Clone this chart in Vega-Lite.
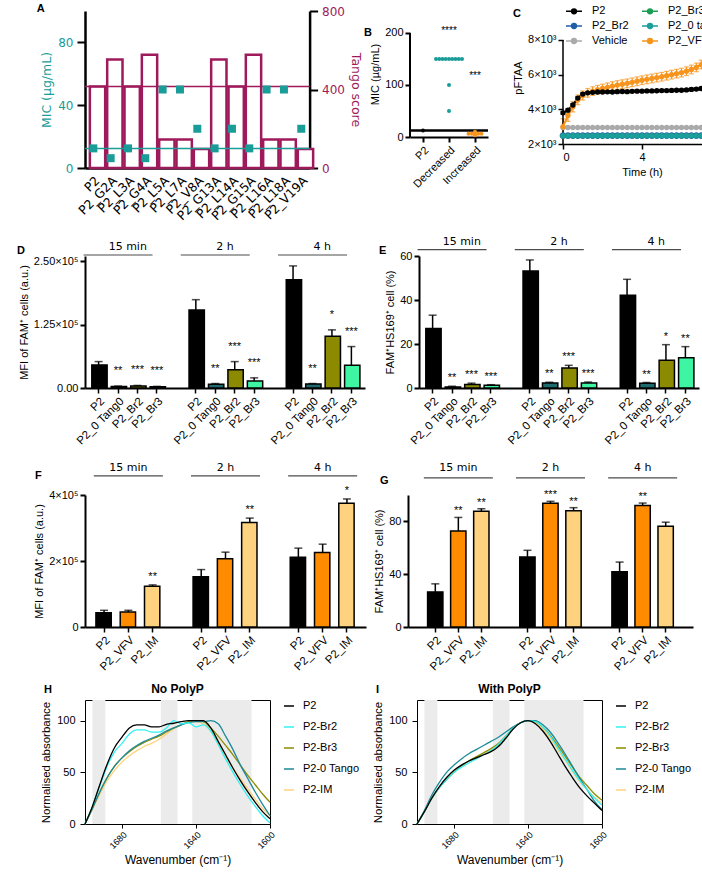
{
  "$schema": "https://vega.github.io/schema/vega-lite/v6.json",
  "background": "white",
  "padding": {"left": 2, "top": 2, "right": 0, "bottom": 0},
  "spacing": 13,
  "resolve": {"scale": {"color": "independent", "fill": "independent", "shape": "independent", "stroke": "independent"}},
  "config": {
    "font": "Liberation Sans",
    "view": {"stroke": null, "step": 17.33},
    "axis": {"grid": false, "labelOverlap": false, "domainColor": "black", "domainWidth": 2, "tickColor": "black", "tickWidth": 2, "tickSize": 5, "labelFont": "Liberation Sans", "labelFontSize": 11, "labelColor": "black", "titleFont": "Liberation Sans", "titleFontSize": 11, "titleFontWeight": "normal", "titleColor": "black", "labelPadding": 2, "titlePadding": 4},
    "title": {"font": "Liberation Sans", "fontSize": 12, "fontWeight": "bold", "color": "black"},
    "legend": {"labelFont": "Liberation Sans", "labelFontSize": 11, "labelColor": "black"},
    "text": {"font": "Liberation Sans"}
  },
  "vconcat": [
    {
      "spacing": 2,
      "resolve": {"scale": {"color": "independent", "fill": "independent", "shape": "independent", "stroke": "independent"}},
      "hconcat": [
        {
          "width": {"step": 17.33}, "height": 157,
          "data": {"values": [
            {"pep": "P2", "tango": 415, "mic": 12.5},
            {"pep": "P2_G2A", "tango": 553, "mic": 6.25},
            {"pep": "P2_L3A", "tango": 415, "mic": 12.5},
            {"pep": "P2_G4A", "tango": 577, "mic": 6.25},
            {"pep": "P2_L5A", "tango": 145, "mic": 50},
            {"pep": "P2_L7A", "tango": 145, "mic": 50},
            {"pep": "P2_V8A", "tango": 97, "mic": 25},
            {"pep": "P2_G13A", "tango": 553, "mic": 12.5},
            {"pep": "P2_L14A", "tango": 415, "mic": 25},
            {"pep": "P2_G15A", "tango": 577, "mic": 12.5},
            {"pep": "P2_L16A", "tango": 145, "mic": 50},
            {"pep": "P2_L18A", "tango": 145, "mic": 50},
            {"pep": "P2_V19A", "tango": 97, "mic": 25}
          ]},
          "layer": [
            {"layer": [
              {"mark": {"type": "bar", "fill": "white", "stroke": "#9E1A5B", "strokeWidth": 2.5},
               "encoding": {
                 "x": {"field": "pep", "type": "nominal", "sort": null, "scale": {"paddingInner": 0.6, "paddingOuter": 0.28},
                       "axis": {"title": null, "ticks": false, "labelAngle": -45, "labelFont": "DejaVu Sans", "labelFontSize": 12.5, "labelPadding": 6, "domainWidth": 2.5}},
                 "y": {"field": "tango", "type": "quantitative", "scale": {"domain": [0, 800]},
                       "axis": {"orient": "right", "values": [0, 200, 400, 600, 800], "title": "Tango score", "titleAngle": 90, "titleColor": "#9E1A5B", "titleFont": "DejaVu Sans", "titleFontSize": 12.5, "labelColor": "#9E1A5B", "labelFont": "DejaVu Sans", "labelFontSize": 12, "tickSize": 8, "domainWidth": 2.5, "labelPadding": 4, "titlePadding": 4}}}},
              {"data": {"values": [{}]}, "mark": {"type": "rule", "color": "#9E1A5B", "strokeWidth": 1.5}, "encoding": {"y": {"datum": 415}}}
            ]},
            {"layer": [
              {"mark": {"type": "square", "filled": true, "color": "#1A9C98", "size": 64, "opacity": 1},
               "encoding": {
                 "x": {"field": "pep", "type": "nominal", "sort": null},
                 "y": {"field": "mic", "type": "quantitative", "scale": {"domain": [0, 100]},
                       "axis": {"orient": "left", "values": [0, 20, 40, 60, 80, 100], "title": "MIC (µg/mL)", "titleColor": "#1A9C98", "titleFont": "DejaVu Sans", "titleFontSize": 12.5, "labelColor": "#1A9C98", "labelFont": "DejaVu Sans", "labelFontSize": 12, "tickSize": 8, "domainWidth": 2.5, "labelPadding": 4}}}},
              {"data": {"values": [{}]}, "mark": {"type": "rule", "color": "#1A9C98", "strokeWidth": 1.5}, "encoding": {"y": {"datum": 12.5}}},
              {"data": {"values": [{"letter": "A"}]}, "mark": {"type": "text", "fontWeight": "bold", "fontSize": 11, "align": "left", "baseline": "middle", "dx": -160.5, "dy": -2},
               "encoding": {"y": {"datum": 100}, "text": {"field": "letter"}}}
            ]}
          ],
          "resolve": {"scale": {"y": "independent"}}
        },
        {
          "width": 78, "height": 126,
          "data": {"values": [
            {"grp": "P2", "rep": "5", "mic": 12.5},
            {"grp": "Decreased", "rep": "1", "mic": 150},
            {"grp": "Decreased", "rep": "2", "mic": 150},
            {"grp": "Decreased", "rep": "3", "mic": 150},
            {"grp": "Decreased", "rep": "4", "mic": 150},
            {"grp": "Decreased", "rep": "5", "mic": 150},
            {"grp": "Decreased", "rep": "6", "mic": 150},
            {"grp": "Decreased", "rep": "7", "mic": 150},
            {"grp": "Decreased", "rep": "8", "mic": 150},
            {"grp": "Decreased", "rep": "9", "mic": 150},
            {"grp": "Decreased", "rep": "5", "mic": 100},
            {"grp": "Decreased", "rep": "5", "mic": 50},
            {"grp": "Increased", "rep": "3", "mic": 6.25},
            {"grp": "Increased", "rep": "4", "mic": 6.25},
            {"grp": "Increased", "rep": "5", "mic": 6.25},
            {"grp": "Increased", "rep": "6", "mic": 6.25},
            {"grp": "Increased", "rep": "7", "mic": 6.25},
            {"grp": "Increased", "rep": "5", "mic": 10},
            {"grp": "Increased", "rep": "5", "mic": 3.125}
          ]},
          "layer": [
            {"data": {"values": [{}]}, "mark": {"type": "rule", "color": "black", "strokeWidth": 2.5}, "encoding": {"y": {"datum": 12.5}}},
            {"mark": {"type": "circle", "size": 16, "opacity": 1},
             "encoding": {
               "x": {"field": "grp", "type": "nominal", "sort": ["P2", "Decreased", "Increased"], "scale": {"domain": ["P2", "Decreased", "Increased"], "paddingInner": 0, "paddingOuter": 0},
                     "axis": {"title": null, "labelAngle": -45, "labelFontSize": 11, "tickSize": 5, "labelPadding": 2}},
               "xOffset": {"field": "rep", "type": "nominal", "scale": {"domain": ["1", "2", "3", "4", "5", "6", "7", "8", "9"], "paddingInner": 0, "paddingOuter": 0}},
               "y": {"field": "mic", "type": "quantitative", "scale": {"domain": [0, 242.3], "nice": false}, "axis": {"values": [0, 50, 100, 150, 200], "title": "MIC (µg/mL)", "labelFontSize": 11, "domain": false}},
               "color": {"field": "grp", "type": "nominal", "scale": {"domain": ["P2", "Decreased", "Increased"], "range": ["#000000", "#1A9C98", "#F7941D"]}, "legend": null}}},
            {"data": {"values": [{}]}, "mark": {"type": "rule", "color": "black", "strokeWidth": 2}, "encoding": {"x": {"datum": "P2", "bandPosition": 0}, "y": {"datum": 0}, "y2": {"datum": 200}}},
            {"data": {"values": [{"lab": "****"}]}, "mark": {"type": "text", "fontSize": 10, "baseline": "middle"}, "encoding": {"x": {"datum": "Decreased"}, "y": {"datum": 203}, "text": {"field": "lab"}}},
            {"data": {"values": [{"lab": "***"}]}, "mark": {"type": "text", "fontSize": 10, "baseline": "middle"}, "encoding": {"x": {"datum": "Increased"}, "y": {"datum": 117}, "text": {"field": "lab"}}},
            {"data": {"values": [{"letter": "B"}]}, "mark": {"type": "text", "fontWeight": "bold", "fontSize": 11, "align": "left", "baseline": "middle", "dx": -46},
             "encoding": {"x": {"datum": "P2", "bandPosition": 0}, "y": {"datum": 200}, "text": {"field": "letter"}}}
          ]
        },
        {
          "width": 18, "height": 5, "data": {"values": [{}]}, "mark": {"type": "point", "opacity": 0}
        },
        {
          "width": 158, "height": 133,
          "data": {"values": [
            {"t": 0, "P2": 3800, "P2e": 80, "P2_VFV": 3000, "VFVe": 450, "Vehicle": 2950, "P2_0 tango": 2470, "P2_Br2": 2480, "P2_Br3": 2470},
            {"t": 0.25, "P2": 3950, "P2e": 80, "P2_VFV": 3650, "VFVe": 350, "Vehicle": 2950, "P2_0 tango": 2470, "P2_Br2": 2480, "P2_Br3": 2470},
            {"t": 0.5, "P2": 4250, "P2e": 80, "P2_VFV": 4150, "VFVe": 300, "Vehicle": 2950, "P2_0 tango": 2470, "P2_Br2": 2480, "P2_Br3": 2470},
            {"t": 0.75, "P2": 4650, "P2e": 80, "P2_VFV": 4550, "VFVe": 280, "Vehicle": 2950, "P2_0 tango": 2470, "P2_Br2": 2480, "P2_Br3": 2470},
            {"t": 1, "P2": 4880, "P2e": 80, "P2_VFV": 4800, "VFVe": 260, "Vehicle": 2950, "P2_0 tango": 2470, "P2_Br2": 2480, "P2_Br3": 2470},
            {"t": 1.25, "P2": 4950, "P2e": 70, "P2_VFV": 4950, "VFVe": 250, "Vehicle": 2950, "P2_0 tango": 2470, "P2_Br2": 2480, "P2_Br3": 2470},
            {"t": 1.5, "P2": 4980, "P2e": 70, "P2_VFV": 5050, "VFVe": 250, "Vehicle": 2950, "P2_0 tango": 2470, "P2_Br2": 2480, "P2_Br3": 2470},
            {"t": 1.75, "P2": 5000, "P2e": 70, "P2_VFV": 5130, "VFVe": 250, "Vehicle": 2950, "P2_0 tango": 2470, "P2_Br2": 2480, "P2_Br3": 2470},
            {"t": 2, "P2": 5000, "P2e": 70, "P2_VFV": 5200, "VFVe": 250, "Vehicle": 2950, "P2_0 tango": 2470, "P2_Br2": 2480, "P2_Br3": 2470},
            {"t": 2.25, "P2": 5010, "P2e": 70, "P2_VFV": 5270, "VFVe": 250, "Vehicle": 2950, "P2_0 tango": 2470, "P2_Br2": 2480, "P2_Br3": 2470},
            {"t": 2.5, "P2": 5000, "P2e": 70, "P2_VFV": 5340, "VFVe": 250, "Vehicle": 2950, "P2_0 tango": 2470, "P2_Br2": 2480, "P2_Br3": 2470},
            {"t": 2.75, "P2": 5020, "P2e": 70, "P2_VFV": 5400, "VFVe": 250, "Vehicle": 2950, "P2_0 tango": 2470, "P2_Br2": 2480, "P2_Br3": 2470},
            {"t": 3, "P2": 5030, "P2e": 70, "P2_VFV": 5450, "VFVe": 250, "Vehicle": 2950, "P2_0 tango": 2470, "P2_Br2": 2480, "P2_Br3": 2470},
            {"t": 3.25, "P2": 5020, "P2e": 70, "P2_VFV": 5500, "VFVe": 250, "Vehicle": 2950, "P2_0 tango": 2470, "P2_Br2": 2480, "P2_Br3": 2470},
            {"t": 3.5, "P2": 5040, "P2e": 70, "P2_VFV": 5560, "VFVe": 250, "Vehicle": 2950, "P2_0 tango": 2470, "P2_Br2": 2480, "P2_Br3": 2470},
            {"t": 3.75, "P2": 5050, "P2e": 70, "P2_VFV": 5620, "VFVe": 250, "Vehicle": 2950, "P2_0 tango": 2470, "P2_Br2": 2480, "P2_Br3": 2470},
            {"t": 4, "P2": 5050, "P2e": 70, "P2_VFV": 5680, "VFVe": 250, "Vehicle": 2950, "P2_0 tango": 2470, "P2_Br2": 2480, "P2_Br3": 2470},
            {"t": 4.25, "P2": 5060, "P2e": 70, "P2_VFV": 5730, "VFVe": 250, "Vehicle": 2950, "P2_0 tango": 2470, "P2_Br2": 2480, "P2_Br3": 2470},
            {"t": 4.5, "P2": 5060, "P2e": 70, "P2_VFV": 5780, "VFVe": 250, "Vehicle": 2950, "P2_0 tango": 2470, "P2_Br2": 2480, "P2_Br3": 2470},
            {"t": 4.75, "P2": 5070, "P2e": 70, "P2_VFV": 5830, "VFVe": 250, "Vehicle": 2950, "P2_0 tango": 2470, "P2_Br2": 2480, "P2_Br3": 2470},
            {"t": 5, "P2": 5080, "P2e": 70, "P2_VFV": 5880, "VFVe": 250, "Vehicle": 2950, "P2_0 tango": 2470, "P2_Br2": 2480, "P2_Br3": 2470},
            {"t": 5.25, "P2": 5080, "P2e": 70, "P2_VFV": 5940, "VFVe": 250, "Vehicle": 2950, "P2_0 tango": 2470, "P2_Br2": 2480, "P2_Br3": 2470},
            {"t": 5.5, "P2": 5090, "P2e": 70, "P2_VFV": 6000, "VFVe": 250, "Vehicle": 2950, "P2_0 tango": 2470, "P2_Br2": 2480, "P2_Br3": 2470},
            {"t": 5.75, "P2": 5100, "P2e": 70, "P2_VFV": 6060, "VFVe": 250, "Vehicle": 2950, "P2_0 tango": 2470, "P2_Br2": 2480, "P2_Br3": 2470},
            {"t": 6, "P2": 5100, "P2e": 70, "P2_VFV": 6120, "VFVe": 250, "Vehicle": 2950, "P2_0 tango": 2470, "P2_Br2": 2480, "P2_Br3": 2470},
            {"t": 6.25, "P2": 5120, "P2e": 80, "P2_VFV": 6200, "VFVe": 250, "Vehicle": 2950, "P2_0 tango": 2470, "P2_Br2": 2480, "P2_Br3": 2470},
            {"t": 6.5, "P2": 5150, "P2e": 80, "P2_VFV": 6300, "VFVe": 250, "Vehicle": 2950, "P2_0 tango": 2470, "P2_Br2": 2480, "P2_Br3": 2470},
            {"t": 6.75, "P2": 5170, "P2e": 80, "P2_VFV": 6420, "VFVe": 250, "Vehicle": 2950, "P2_0 tango": 2470, "P2_Br2": 2480, "P2_Br3": 2470},
            {"t": 7, "P2": 5200, "P2e": 90, "P2_VFV": 6580, "VFVe": 250, "Vehicle": 2950, "P2_0 tango": 2470, "P2_Br2": 2480, "P2_Br3": 2470},
            {"t": 7.25, "P2": 5230, "P2e": 90, "P2_VFV": 6500, "VFVe": 250, "Vehicle": 2950, "P2_0 tango": 2470, "P2_Br2": 2480, "P2_Br3": 2470},
            {"t": 7.5, "P2": 5260, "P2e": 100, "P2_VFV": 6200, "VFVe": 250, "Vehicle": 2950, "P2_0 tango": 2470, "P2_Br2": 2480, "P2_Br3": 2470},
            {"t": 7.75, "P2": 5200, "P2e": 100, "P2_VFV": 6380, "VFVe": 250, "Vehicle": 2950, "P2_0 tango": 2470, "P2_Br2": 2480, "P2_Br3": 2470},
            {"t": 8, "P2": 5060, "P2e": 150, "P2_VFV": 6450, "VFVe": 250, "Vehicle": 2950, "P2_0 tango": 2470, "P2_Br2": 2480, "P2_Br3": 2470}
          ]},
          "layer": [
            {"mark": {"type": "errorbar", "color": "#F7941D", "ticks": true, "thickness": 1.2},
             "encoding": {
               "x": {"field": "t", "type": "quantitative", "scale": {"domain": [0, 8], "nice": false}, "axis": {"values": [0, 2, 4, 6, 8], "title": "Time (h)", "domainWidth": 1.5, "tickWidth": 1.5}},
               "y": {"field": "P2_VFV", "type": "quantitative", "scale": {"domain": [2000, 9673], "zero": false, "nice": false}, "axis": {"title": "pFTAA", "values": [2000, 4000, 6000, 8000], "labelExpr": "(datum.value/1000) + '×10³'", "domain": false, "tickWidth": 1.5}},
               "yError": {"field": "VFVe"}}},
            {"mark": {"type": "errorbar", "color": "black", "ticks": true, "thickness": 1.2},
             "encoding": {
               "x": {"field": "t", "type": "quantitative"},
               "y": {"field": "P2", "type": "quantitative", "axis": {"title": "pFTAA"}},
               "yError": {"field": "P2e"}}},
            {"data": {"values": [{}]}, "mark": {"type": "rule", "color": "black", "strokeWidth": 1.5}, "encoding": {"x": {"datum": 0}, "y": {"datum": 2000}, "y2": {"datum": 8000}}},
            {"transform": [{"fold": ["P2_Br2", "P2_Br3", "P2_0 tango", "Vehicle", "P2_VFV", "P2"], "as": ["s", "v"]}],
             "mark": {"type": "line", "strokeWidth": 2},
             "encoding": {
               "x": {"field": "t", "type": "quantitative"},
               "y": {"field": "v", "type": "quantitative", "axis": {"title": "pFTAA"}},
               "color": {"field": "s", "type": "nominal", "scale": {"domain": ["P2", "P2_Br2", "Vehicle", "P2_Br3", "P2_0 tango", "P2_VFV"], "range": ["#000000", "#1F5FAA", "#AAAAAA", "#1A9E55", "#1A9E9E", "#F7941D"]},
                         "legend": {"title": null, "orient": "none", "legendX": 2, "legendY": -9, "columns": 2, "symbolType": "M-1,0H1M0.3,0A0.3,0.3,0,1,1,-0.3,0A0.3,0.3,0,1,1,0.3,0M0.15,0A0.15,0.15,0,1,1,-0.15,0A0.15,0.15,0,1,1,0.15,0", "symbolSize": 256, "symbolStrokeWidth": 1.5, "labelFontSize": 11, "labelOffset": 9, "rowPadding": 0, "columnPadding": 10, "padding": 0}}}},
            {"transform": [{"fold": ["P2_Br2"], "as": ["s", "v"]}],
             "mark": {"type": "point", "filled": false, "size": 30, "opacity": 1, "strokeWidth": 1.2},
             "encoding": {
               "x": {"field": "t", "type": "quantitative"},
               "y": {"field": "v", "type": "quantitative", "axis": {"title": "pFTAA"}},
               "stroke": {"field": "s", "type": "nominal", "scale": {"domain": ["P2", "P2_Br2", "Vehicle", "P2_Br3", "P2_0 tango", "P2_VFV"], "range": ["#000000", "#1F5FAA", "#AAAAAA", "#1A9E55", "#1A9E9E", "#F7941D"]}, "legend": null}}},
            {"transform": [{"fold": ["P2_Br3", "P2_0 tango", "Vehicle", "P2_VFV", "P2"], "as": ["s", "v"]}],
             "mark": {"type": "point", "filled": false, "size": 8, "opacity": 1, "strokeWidth": 2.5},
             "encoding": {
               "x": {"field": "t", "type": "quantitative"},
               "y": {"field": "v", "type": "quantitative", "axis": {"title": "pFTAA"}},
               "stroke": {"field": "s", "type": "nominal", "legend": null}}},
            {"data": {"values": [{"letter": "C"}]}, "mark": {"type": "text", "fontWeight": "bold", "fontSize": 11, "align": "left", "baseline": "middle", "dx": -50, "dy": -26},
             "encoding": {"x": {"datum": 0}, "y": {"datum": 8000}, "text": {"field": "letter"}}}
          ]
        }
      ]
    },
    {
      "spacing": 14,
      "resolve": {"scale": {"color": "independent", "fill": "independent", "shape": "independent", "stroke": "independent"}},
      "vconcat": [
        {
          "spacing": 14,
          "resolve": {"scale": {"color": "independent", "fill": "independent", "shape": "independent", "stroke": "independent"}},
          "hconcat": [
            {
              "width": 280, "height": 132,
              "data": {"values": [
                {"k": "15 min|P2", "g": "P2", "v": 45500, "hi": 52000, "sig": ""},
                {"k": "15 min|P2_0 Tang0", "g": "P2_0 Tang0", "v": 3000, "hi": 3800, "sig": "**"},
                {"k": "15 min|P2_Br2", "g": "P2_Br2", "v": 4000, "hi": 5000, "sig": "***"},
                {"k": "15 min|P2_Br3", "g": "P2_Br3", "v": 2500, "hi": 3200, "sig": "***"},
                {"k": "2 h|P2", "g": "P2", "v": 153800, "hi": 174000, "sig": ""},
                {"k": "2 h|P2_0 Tang0", "g": "P2_0 Tang0", "v": 7600, "hi": 8800, "sig": "**"},
                {"k": "2 h|P2_Br2", "g": "P2_Br2", "v": 36000, "hi": 52000, "sig": "***"},
                {"k": "2 h|P2_Br3", "g": "P2_Br3", "v": 14000, "hi": 20000, "sig": "***"},
                {"k": "4 h|P2", "g": "P2", "v": 213000, "hi": 240500, "sig": ""},
                {"k": "4 h|P2_0 Tang0", "g": "P2_0 Tang0", "v": 8000, "hi": 8800, "sig": "**"},
                {"k": "4 h|P2_Br2", "g": "P2_Br2", "v": 102000, "hi": 114500, "sig": "*"},
                {"k": "4 h|P2_Br3", "g": "P2_Br3", "v": 45000, "hi": 81600, "sig": "***"}
              ]},
              "encoding": {"x": {"field": "k", "type": "nominal",
                "scale": {"domain": ["15 min|P2", "15 min|P2_0 Tang0", "15 min|P2_Br2", "15 min|P2_Br3", "gap1", "2 h|P2", "2 h|P2_0 Tang0", "2 h|P2_Br2", "2 h|P2_Br3", "gap2", "4 h|P2", "4 h|P2_0 Tang0", "4 h|P2_Br2", "4 h|P2_Br3"], "paddingInner": 0.3, "paddingOuter": 0.35},
                "axis": {"title": null, "labelExpr": "indexof(datum.value, '|') > 0 ? split(datum.value, '|')[1] : ''", "labelAngle": -45, "labelFontSize": 11.5, "tickOpacity": {"condition": {"test": "indexof(datum.value, 'gap') == 0", "value": 0}, "value": 1}, "tickWidth": 1.5, "tickSize": 5, "domainWidth": 2, "labelPadding": 2}}},
              "layer": [
                {"mark": {"type": "rule", "color": "black", "strokeWidth": 1.5},
                 "encoding": {"y": {"field": "v", "type": "quantitative", "scale": {"domain": [0, 250000]}, "axis": {"title": "MFI of FAM⁺ cells (a.u.)", "values": [0, 125000, 250000], "labelExpr": "datum.value == 0 ? '0.00' : format(datum.value/100000, '.2f') + '×10⁵'"}},
                              "y2": {"field": "hi"}}},
                {"mark": {"type": "tick", "orient": "horizontal", "color": "black", "thickness": 1.5, "size": 8},
                 "encoding": {"y": {"field": "hi", "type": "quantitative"}}},
                {"mark": {"type": "bar", "stroke": "black", "strokeWidth": 1.5},
                 "encoding": {"y": {"field": "v", "type": "quantitative"},
                              "fill": {"field": "g", "type": "nominal", "scale": {"domain": ["P2", "P2_0 Tang0", "P2_Br2", "P2_Br3"], "range": ["#000000", "#1D6B6E", "#8C8A00", "#3DF5A3"]}, "legend": null}}},
                {"mark": {"type": "text", "fontSize": 11, "dy": -12, "baseline": "alphabetic"},
                 "encoding": {"y": {"field": "hi", "type": "quantitative"}, "text": {"field": "sig"}}},
                {"data": {"values": [{"c": "15 min|P2_0 Tang0", "t": "15 min"}, {"c": "2 h|P2_0 Tang0", "t": "2 h"}, {"c": "4 h|P2_0 Tang0", "t": "4 h"}]},
                 "mark": {"type": "tick", "orient": "horizontal", "color": "black", "thickness": 1.2, "size": 69},
                 "encoding": {"x": {"field": "c", "type": "nominal", "bandPosition": 1.214}, "y": {"datum": 262000}}},
                {"data": {"values": [{"c": "15 min|P2_0 Tang0", "t": "15 min"}, {"c": "2 h|P2_0 Tang0", "t": "2 h"}, {"c": "4 h|P2_0 Tang0", "t": "4 h"}]},
                 "mark": {"type": "text", "font": "DejaVu Sans", "fontSize": 11, "baseline": "alphabetic"},
                 "encoding": {"x": {"field": "c", "type": "nominal", "bandPosition": 1.214}, "y": {"datum": 270900}, "text": {"field": "t"}}},
                {"data": {"values": [{"letter": "\u00a0"}]}, "mark": {"type": "text", "opacity": 0, "fontSize": 11, "align": "left", "baseline": "middle", "dx": -89.8, "dy": -10},
                 "encoding": {"x": {"datum": "15 min|P2", "bandPosition": 0}, "y": {"datum": 250000}, "text": {"field": "letter"}}},
                {"data": {"values": [{"letter": "D"}]}, "mark": {"type": "text", "fontWeight": "bold", "fontSize": 11, "align": "left", "baseline": "middle", "dx": -74.8, "dy": -10},
                 "encoding": {"x": {"datum": "15 min|P2", "bandPosition": 0}, "y": {"datum": 250000}, "text": {"field": "letter"}}}
              ]
            },
            {
              "width": 280, "height": 132,
              "data": {"values": [
                {"k": "15 min|P2", "g": "P2", "v": 27.0, "hi": 33.1, "sig": ""},
                {"k": "15 min|P2_0 Tango", "g": "P2_0 Tango", "v": 0.5, "hi": 0.8, "sig": "**"},
                {"k": "15 min|P2_Br2", "g": "P2_Br2", "v": 1.6, "hi": 2.2, "sig": "***"},
                {"k": "15 min|P2_Br3", "g": "P2_Br3", "v": 1.2, "hi": 1.5, "sig": "***"},
                {"k": "2 h|P2", "g": "P2", "v": 53.2, "hi": 58.2, "sig": ""},
                {"k": "2 h|P2_0 Tango", "g": "P2_0 Tango", "v": 2.3, "hi": 2.6, "sig": "**"},
                {"k": "2 h|P2_Br2", "g": "P2_Br2", "v": 9.1, "hi": 10.3, "sig": "***"},
                {"k": "2 h|P2_Br3", "g": "P2_Br3", "v": 2.3, "hi": 2.7, "sig": "***"},
                {"k": "4 h|P2", "g": "P2", "v": 42.2, "hi": 49.4, "sig": ""},
                {"k": "4 h|P2_0 Tango", "g": "P2_0 Tango", "v": 2.2, "hi": 2.5, "sig": "**"},
                {"k": "4 h|P2_Br2", "g": "P2_Br2", "v": 12.6, "hi": 19.7, "sig": "*"},
                {"k": "4 h|P2_Br3", "g": "P2_Br3", "v": 13.8, "hi": 18.8, "sig": "**"}
              ]},
              "encoding": {"x": {"field": "k", "type": "nominal",
                "scale": {"domain": ["15 min|P2", "15 min|P2_0 Tango", "15 min|P2_Br2", "15 min|P2_Br3", "gap1", "2 h|P2", "2 h|P2_0 Tango", "2 h|P2_Br2", "2 h|P2_Br3", "gap2", "4 h|P2", "4 h|P2_0 Tango", "4 h|P2_Br2", "4 h|P2_Br3"], "paddingInner": 0.3, "paddingOuter": 0.35},
                "axis": {"title": null, "labelExpr": "indexof(datum.value, '|') > 0 ? split(datum.value, '|')[1] : ''", "labelAngle": -45, "labelFontSize": 11.5, "tickOpacity": {"condition": {"test": "indexof(datum.value, 'gap') == 0", "value": 0}, "value": 1}, "tickWidth": 1.5, "tickSize": 5, "domainWidth": 2, "labelPadding": 2}}},
              "layer": [
                {"mark": {"type": "rule", "color": "black", "strokeWidth": 1.5},
                 "encoding": {"y": {"field": "v", "type": "quantitative", "scale": {"domain": [0, 60]}, "axis": {"title": "FAM⁺HS169⁺ cell (%)", "values": [0, 20, 40, 60]}},
                              "y2": {"field": "hi"}}},
                {"mark": {"type": "tick", "orient": "horizontal", "color": "black", "thickness": 1.5, "size": 8},
                 "encoding": {"y": {"field": "hi", "type": "quantitative"}}},
                {"mark": {"type": "bar", "stroke": "black", "strokeWidth": 1.5},
                 "encoding": {"y": {"field": "v", "type": "quantitative"},
                              "fill": {"field": "g", "type": "nominal", "scale": {"domain": ["P2", "P2_0 Tango", "P2_Br2", "P2_Br3"], "range": ["#000000", "#1D6B6E", "#8C8A00", "#3DF5A3"]}, "legend": null}}},
                {"mark": {"type": "text", "fontSize": 11, "dy": -5, "baseline": "alphabetic"},
                 "encoding": {"y": {"field": "hi", "type": "quantitative"}, "text": {"field": "sig"}}},
                {"data": {"values": [{"c": "15 min|P2_0 Tango", "t": "15 min"}, {"c": "2 h|P2_0 Tango", "t": "2 h"}, {"c": "4 h|P2_0 Tango", "t": "4 h"}]},
                 "mark": {"type": "tick", "orient": "horizontal", "color": "black", "thickness": 1.2, "size": 69},
                 "encoding": {"x": {"field": "c", "type": "nominal", "bandPosition": 1.214}, "y": {"datum": 62.9}}},
                {"data": {"values": [{"c": "15 min|P2_0 Tango", "t": "15 min"}, {"c": "2 h|P2_0 Tango", "t": "2 h"}, {"c": "4 h|P2_0 Tango", "t": "4 h"}]},
                 "mark": {"type": "text", "font": "DejaVu Sans", "fontSize": 11, "baseline": "alphabetic"},
                 "encoding": {"x": {"field": "c", "type": "nominal", "bandPosition": 1.214}, "y": {"datum": 65.0}, "text": {"field": "t"}}},
                {"data": {"values": [{"letter": "E"}]}, "mark": {"type": "text", "fontWeight": "bold", "fontSize": 11, "align": "left", "baseline": "middle", "dx": -46.8, "dy": -5},
                 "encoding": {"x": {"datum": "15 min|P2", "bandPosition": 0}, "y": {"datum": 60}, "text": {"field": "letter"}}}
              ]
            }
          ]
        },
        {
          "spacing": 9,
          "resolve": {"scale": {"color": "independent", "fill": "independent", "shape": "independent", "stroke": "independent"}},
          "vconcat": [
            {
              "spacing": 7,
              "resolve": {"scale": {"color": "independent", "fill": "independent", "shape": "independent", "stroke": "independent"}},
              "hconcat": [
                {
                  "width": 281, "height": 132,
                  "data": {"values": [
                    {"k": "15 min|P2", "g": "P2", "v": 43500, "hi": 50600, "sig": ""},
                    {"k": "15 min|P2_VFV", "g": "P2_VFV", "v": 45600, "hi": 50600, "sig": ""},
                    {"k": "15 min|P2_IM", "g": "P2_IM", "v": 123500, "hi": 127600, "sig": "**"},
                    {"k": "2 h|P2", "g": "P2", "v": 152000, "hi": 174000, "sig": ""},
                    {"k": "2 h|P2_VFV", "g": "P2_VFV", "v": 206500, "hi": 226800, "sig": ""},
                    {"k": "2 h|P2_IM", "g": "P2_IM", "v": 317000, "hi": 330000, "sig": "**"},
                    {"k": "4 h|P2", "g": "P2", "v": 211600, "hi": 239000, "sig": ""},
                    {"k": "4 h|P2_VFV", "g": "P2_VFV", "v": 225800, "hi": 251000, "sig": ""},
                    {"k": "4 h|P2_IM", "g": "P2_IM", "v": 374700, "hi": 388000, "sig": "*"}
                  ]},
                  "encoding": {"x": {"field": "k", "type": "nominal",
                    "scale": {"domain": ["15 min|P2", "15 min|P2_VFV", "15 min|P2_IM", "gap1", "2 h|P2", "2 h|P2_VFV", "2 h|P2_IM", "gap2", "4 h|P2", "4 h|P2_VFV", "4 h|P2_IM"], "paddingInner": 0.33, "paddingOuter": 0.45},
                    "axis": {"title": null, "labelExpr": "indexof(datum.value, '|') > 0 ? split(datum.value, '|')[1] : ''", "labelAngle": -45, "labelFontSize": 11.5, "tickOpacity": {"condition": {"test": "indexof(datum.value, 'gap') == 0", "value": 0}, "value": 1}, "tickWidth": 1.5, "tickSize": 5, "domainWidth": 2, "labelPadding": 2}}},
                  "layer": [
                    {"mark": {"type": "rule", "color": "black", "strokeWidth": 1.5},
                     "encoding": {"y": {"field": "v", "type": "quantitative", "scale": {"domain": [0, 400000]}, "axis": {"title": "MFI of FAM⁺ cells (a.u.)", "values": [0, 100000, 200000, 300000, 400000], "labelExpr": "datum.value == 0 ? '0' : format(datum.value/100000, 'd') + '×10⁵'"}},
                                  "y2": {"field": "hi"}}},
                    {"mark": {"type": "tick", "orient": "horizontal", "color": "black", "thickness": 1.5, "size": 8},
                     "encoding": {"y": {"field": "hi", "type": "quantitative"}}},
                    {"mark": {"type": "bar", "stroke": "black", "strokeWidth": 1.5},
                     "encoding": {"y": {"field": "v", "type": "quantitative"},
                                  "fill": {"field": "g", "type": "nominal", "scale": {"domain": ["P2", "P2_VFV", "P2_IM"], "range": ["#000000", "#FF8C00", "#FFD27F"]}, "legend": null}}},
                    {"mark": {"type": "text", "fontSize": 11, "dy": -5, "baseline": "alphabetic"},
                     "encoding": {"y": {"field": "hi", "type": "quantitative"}, "text": {"field": "sig"}}},
                    {"data": {"values": [{"c": "15 min|P2_VFV", "t": "15 min"}, {"c": "2 h|P2_VFV", "t": "2 h"}, {"c": "4 h|P2_VFV", "t": "4 h"}]},
                     "mark": {"type": "tick", "orient": "horizontal", "color": "black", "thickness": 1.2, "size": 69},
                     "encoding": {"x": {"field": "c", "type": "nominal"}, "y": {"datum": 457700}}},
                    {"data": {"values": [{"c": "15 min|P2_VFV", "t": "15 min"}, {"c": "2 h|P2_VFV", "t": "2 h"}, {"c": "4 h|P2_VFV", "t": "4 h"}]},
                     "mark": {"type": "text", "font": "DejaVu Sans", "fontSize": 11, "baseline": "alphabetic"},
                     "encoding": {"x": {"field": "c", "type": "nominal"}, "y": {"datum": 472900}, "text": {"field": "t"}}},
                    {"data": {"values": [{"letter": "\u00a0"}]}, "mark": {"type": "text", "opacity": 0, "fontSize": 11, "align": "left", "baseline": "middle", "dx": -90.9, "dy": -19},
                     "encoding": {"x": {"datum": "15 min|P2", "bandPosition": 0}, "y": {"datum": 400000}, "text": {"field": "letter"}}},
                    {"data": {"values": [{"letter": "F"}]}, "mark": {"type": "text", "fontWeight": "bold", "fontSize": 11, "align": "left", "baseline": "middle", "dx": -60.9, "dy": -19},
                     "encoding": {"x": {"datum": "15 min|P2", "bandPosition": 0}, "y": {"datum": 400000}, "text": {"field": "letter"}}}
                  ]
                },
                {
                  "width": 285, "height": 132,
                  "data": {"values": [
                    {"k": "15 min|P2", "g": "P2", "v": 26.6, "hi": 32.7, "sig": ""},
                    {"k": "15 min|P2_VFV", "g": "P2_VFV", "v": 72.8, "hi": 83.0, "sig": "**"},
                    {"k": "15 min|P2_IM", "g": "P2_IM", "v": 87.6, "hi": 89.6, "sig": "**"},
                    {"k": "2 h|P2", "g": "P2", "v": 53.0, "hi": 58.1, "sig": ""},
                    {"k": "2 h|P2_VFV", "g": "P2_VFV", "v": 93.7, "hi": 95.2, "sig": "***"},
                    {"k": "2 h|P2_IM", "g": "P2_IM", "v": 88.1, "hi": 90.4, "sig": "**"},
                    {"k": "4 h|P2", "g": "P2", "v": 41.9, "hi": 49.2, "sig": ""},
                    {"k": "4 h|P2_VFV", "g": "P2_VFV", "v": 92.1, "hi": 93.9, "sig": "**"},
                    {"k": "4 h|P2_IM", "g": "P2_IM", "v": 76.4, "hi": 79.4, "sig": ""}
                  ]},
                  "encoding": {"x": {"field": "k", "type": "nominal",
                    "scale": {"domain": ["15 min|P2", "15 min|P2_VFV", "15 min|P2_IM", "gap1", "2 h|P2", "2 h|P2_VFV", "2 h|P2_IM", "gap2", "4 h|P2", "4 h|P2_VFV", "4 h|P2_IM"], "paddingInner": 0.33, "paddingOuter": 0.85},
                    "axis": {"title": null, "labelExpr": "indexof(datum.value, '|') > 0 ? split(datum.value, '|')[1] : ''", "labelAngle": -45, "labelFontSize": 11.5, "tickOpacity": {"condition": {"test": "indexof(datum.value, 'gap') == 0", "value": 0}, "value": 1}, "tickWidth": 1.5, "tickSize": 5, "domainWidth": 2, "labelPadding": 2}}},
                  "layer": [
                    {"mark": {"type": "rule", "color": "black", "strokeWidth": 1.5},
                     "encoding": {"y": {"field": "v", "type": "quantitative", "scale": {"domain": [0, 100]}, "axis": {"title": "FAM⁺HS169⁺ cell (%)", "values": [0, 20, 40, 60, 80, 100]}},
                                  "y2": {"field": "hi"}}},
                    {"mark": {"type": "tick", "orient": "horizontal", "color": "black", "thickness": 1.5, "size": 8},
                     "encoding": {"y": {"field": "hi", "type": "quantitative"}}},
                    {"mark": {"type": "bar", "stroke": "black", "strokeWidth": 1.5},
                     "encoding": {"y": {"field": "v", "type": "quantitative"},
                                  "fill": {"field": "g", "type": "nominal", "scale": {"domain": ["P2", "P2_VFV", "P2_IM"], "range": ["#000000", "#FF8C00", "#FFD27F"]}, "legend": null}}},
                    {"mark": {"type": "text", "fontSize": 11, "dy": -3, "baseline": "alphabetic"},
                     "encoding": {"y": {"field": "hi", "type": "quantitative"}, "text": {"field": "sig"}}},
                    {"data": {"values": [{"c": "15 min|P2_VFV", "t": "15 min"}, {"c": "2 h|P2_VFV", "t": "2 h"}, {"c": "4 h|P2_VFV", "t": "4 h"}]},
                     "mark": {"type": "tick", "orient": "horizontal", "color": "black", "thickness": 1.2, "size": 69},
                     "encoding": {"x": {"field": "c", "type": "nominal"}, "y": {"datum": 112.9}}},
                    {"data": {"values": [{"c": "15 min|P2_VFV", "t": "15 min"}, {"c": "2 h|P2_VFV", "t": "2 h"}, {"c": "4 h|P2_VFV", "t": "4 h"}]},
                     "mark": {"type": "text", "font": "DejaVu Sans", "fontSize": 11, "baseline": "alphabetic"},
                     "encoding": {"x": {"field": "c", "type": "nominal"}, "y": {"datum": 118}, "text": {"field": "t"}}},
                    {"data": {"values": [{"letter": "G"}]}, "mark": {"type": "text", "fontWeight": "bold", "fontSize": 11, "align": "left", "baseline": "middle", "dx": -47.6, "dy": -14},
                     "encoding": {"x": {"datum": "15 min|P2", "bandPosition": 0}, "y": {"datum": 100}, "text": {"field": "letter"}}}
                  ]
                }
              ]
            },
            {
              "spacing": 11,
              "resolve": {"scale": {"color": "independent", "fill": "independent", "shape": "independent", "stroke": "independent"}},
              "hconcat": [
                {
                  "width": 185, "height": 124,
                  "title": {"text": "No PolyP", "fontSize": 12, "fontWeight": "bold", "offset": -12},
                  "view": {"stroke": "black", "strokeWidth": 1},
                  "layer": [
                    {"data": {"values": [{"a": 1696, "b": 1689}, {"a": 1659, "b": 1650}, {"a": 1642, "b": 1610}]},
                     "mark": {"type": "rect", "color": "#EBEBEB"},
                     "encoding": {"x": {"field": "a", "type": "quantitative", "scale": {"domain": [1600, 1700], "reverse": true, "nice": false},
                                        "axis": {"title": "Wavenumber (cm⁻¹)", "values": [1700, 1680, 1660, 1640, 1620, 1600], "format": "d", "labelAngle": -45, "labelFontSize": 9, "labelOverlap": false, "labelSeparation": -20, "domain": false, "tickWidth": 1, "tickSize": 4, "titleFontSize": 12}},
                                  "x2": {"field": "b"}}},
                    {"data": {"values": [
                      {"w": 1700, "P2": 0, "P2-Br2": 0, "P2-Br3": 0, "P2-0 Tango": 0, "P2-IM": 0},
                      {"w": 1696, "P2": 17, "P2-Br2": 17, "P2-Br3": 15, "P2-0 Tango": 15, "P2-IM": 14},
                      {"w": 1692, "P2": 38, "P2-Br2": 37, "P2-Br3": 31, "P2-0 Tango": 31, "P2-IM": 29},
                      {"w": 1688, "P2": 58, "P2-Br2": 56, "P2-Br3": 45, "P2-0 Tango": 45, "P2-IM": 42},
                      {"w": 1684, "P2": 74, "P2-Br2": 70, "P2-Br3": 56, "P2-0 Tango": 56, "P2-IM": 52},
                      {"w": 1680, "P2": 84, "P2-Br2": 78, "P2-Br3": 64, "P2-0 Tango": 64, "P2-IM": 60},
                      {"w": 1676, "P2": 93, "P2-Br2": 87, "P2-Br3": 70, "P2-0 Tango": 71, "P2-IM": 66},
                      {"w": 1672, "P2": 96, "P2-Br2": 91, "P2-Br3": 75, "P2-0 Tango": 76, "P2-IM": 71},
                      {"w": 1668, "P2": 96, "P2-Br2": 91, "P2-Br3": 79, "P2-0 Tango": 80, "P2-IM": 75},
                      {"w": 1664, "P2": 94, "P2-Br2": 89, "P2-Br3": 82, "P2-0 Tango": 83, "P2-IM": 78},
                      {"w": 1660, "P2": 94, "P2-Br2": 89, "P2-Br3": 85, "P2-0 Tango": 86, "P2-IM": 82},
                      {"w": 1656, "P2": 96.5, "P2-Br2": 93, "P2-Br3": 89, "P2-0 Tango": 90, "P2-IM": 87},
                      {"w": 1652, "P2": 97.5, "P2-Br2": 100, "P2-Br3": 93, "P2-0 Tango": 93, "P2-IM": 92},
                      {"w": 1648, "P2": 99, "P2-Br2": 97, "P2-Br3": 96, "P2-0 Tango": 96, "P2-IM": 96},
                      {"w": 1644, "P2": 100, "P2-Br2": 98, "P2-Br3": 99, "P2-0 Tango": 98, "P2-IM": 99},
                      {"w": 1640, "P2": 100, "P2-Br2": 94, "P2-Br3": 100, "P2-0 Tango": 99, "P2-IM": 99},
                      {"w": 1636, "P2": 100, "P2-Br2": 96, "P2-Br3": 99, "P2-0 Tango": 99, "P2-IM": 97},
                      {"w": 1632, "P2": 93, "P2-Br2": 90, "P2-Br3": 93, "P2-0 Tango": 100, "P2-IM": 90},
                      {"w": 1628, "P2": 80, "P2-Br2": 77, "P2-Br3": 85, "P2-0 Tango": 97, "P2-IM": 78},
                      {"w": 1624, "P2": 67, "P2-Br2": 63, "P2-Br3": 76, "P2-0 Tango": 85, "P2-IM": 66},
                      {"w": 1620, "P2": 54, "P2-Br2": 50, "P2-Br3": 67, "P2-0 Tango": 72, "P2-IM": 54},
                      {"w": 1616, "P2": 42, "P2-Br2": 38, "P2-Br3": 57, "P2-0 Tango": 57, "P2-IM": 44},
                      {"w": 1612, "P2": 31, "P2-Br2": 27, "P2-Br3": 47, "P2-0 Tango": 44, "P2-IM": 34},
                      {"w": 1608, "P2": 21, "P2-Br2": 17, "P2-Br3": 38, "P2-0 Tango": 31, "P2-IM": 24},
                      {"w": 1604, "P2": 12, "P2-Br2": 8, "P2-Br3": 29, "P2-0 Tango": 19, "P2-IM": 15},
                      {"w": 1600, "P2": 5, "P2-Br2": 1, "P2-Br3": 21, "P2-0 Tango": 8, "P2-IM": 8}
                     ]},
                     "transform": [{"fold": ["P2-IM", "P2-Br3", "P2-0 Tango", "P2-Br2", "P2"], "as": ["s", "y"]}],
                     "mark": {"type": "line", "interpolate": "monotone", "strokeWidth": 1.3},
                     "encoding": {
                       "x": {"field": "w", "type": "quantitative", "axis": {"title": "Wavenumber (cm⁻¹)", "values": [1700, 1680, 1660, 1640, 1620, 1600], "format": "d", "labelAngle": -45, "labelFontSize": 9, "labelOverlap": false, "labelSeparation": -20, "domain": false, "tickWidth": 1, "tickSize": 4, "titleFontSize": 12}},
                       "y": {"field": "y", "type": "quantitative", "scale": {"domain": [0, 120], "nice": false}, "axis": {"title": "Normalised absorbance", "values": [0, 50, 100], "domain": false, "tickWidth": 1, "tickSize": 5, "labelPadding": 5, "titlePadding": 5, "titleFontSize": 11.5}},
                       "color": {"field": "s", "type": "nominal", "scale": {"domain": ["P2", "P2-Br2", "P2-Br3", "P2-0 Tango", "P2-IM"], "range": ["#000000", "#33F0F0", "#8C8C00", "#1B8A99", "#FFD27F"]},
                                 "legend": {"title": null, "orient": "right", "symbolType": "stroke", "symbolSize": 100, "symbolStrokeWidth": 1.5, "labelFontSize": 11, "rowPadding": 10, "offset": 10, "labelOffset": 8}}}},
                    {"data": {"values": [{"letter": "\u00a0"}]}, "mark": {"type": "text", "opacity": 0, "fontSize": 11, "align": "left", "baseline": "middle", "dx": -63, "dy": -10},
                     "encoding": {"x": {"datum": 1700}, "y": {"datum": 120}, "text": {"field": "letter"}}},
                    {"data": {"values": [{"letter": "H"}]}, "mark": {"type": "text", "fontWeight": "bold", "fontSize": 11, "align": "left", "baseline": "middle", "dx": -41, "dy": -10},
                     "encoding": {"x": {"datum": 1700}, "y": {"datum": 120}, "text": {"field": "letter"}}}
                  ]
                },
                {
                  "width": 185, "height": 124,
                  "title": {"text": "With PolyP", "fontSize": 12, "fontWeight": "bold", "offset": -12},
                  "view": {"stroke": "black", "strokeWidth": 1},
                  "layer": [
                    {"data": {"values": [{"a": 1696, "b": 1689}, {"a": 1659, "b": 1650}, {"a": 1642, "b": 1610}]},
                     "mark": {"type": "rect", "color": "#EBEBEB"},
                     "encoding": {"x": {"field": "a", "type": "quantitative", "scale": {"domain": [1600, 1700], "reverse": true, "nice": false},
                                        "axis": {"title": "Wavenumber (cm⁻¹)", "values": [1700, 1680, 1660, 1640, 1620, 1600], "format": "d", "labelAngle": -45, "labelFontSize": 9, "labelOverlap": false, "labelSeparation": -20, "domain": false, "tickWidth": 1, "tickSize": 4, "titleFontSize": 12}},
                                  "x2": {"field": "b"}}},
                    {"data": {"values": [
                      {"w": 1700, "P2": 0, "P2-Br2": 0, "P2-Br3": 0, "P2-0 Tango": 0, "P2-IM": 0},
                      {"w": 1696, "P2": 12, "P2-Br2": 12, "P2-Br3": 12, "P2-0 Tango": 13, "P2-IM": 12},
                      {"w": 1692, "P2": 25, "P2-Br2": 25, "P2-Br3": 25, "P2-0 Tango": 28, "P2-IM": 25},
                      {"w": 1688, "P2": 36, "P2-Br2": 35, "P2-Br3": 35, "P2-0 Tango": 40, "P2-IM": 35},
                      {"w": 1684, "P2": 45, "P2-Br2": 43, "P2-Br3": 43, "P2-0 Tango": 50, "P2-IM": 44},
                      {"w": 1680, "P2": 52, "P2-Br2": 50, "P2-Br3": 50, "P2-0 Tango": 57, "P2-IM": 51},
                      {"w": 1676, "P2": 57, "P2-Br2": 55, "P2-Br3": 56, "P2-0 Tango": 63, "P2-IM": 56},
                      {"w": 1672, "P2": 61, "P2-Br2": 59, "P2-Br3": 61, "P2-0 Tango": 68, "P2-IM": 61},
                      {"w": 1668, "P2": 64, "P2-Br2": 63, "P2-Br3": 65, "P2-0 Tango": 72, "P2-IM": 65},
                      {"w": 1664, "P2": 67, "P2-Br2": 67, "P2-Br3": 69, "P2-0 Tango": 76, "P2-IM": 68},
                      {"w": 1660, "P2": 70, "P2-Br2": 71, "P2-Br3": 73, "P2-0 Tango": 80, "P2-IM": 72},
                      {"w": 1656, "P2": 75, "P2-Br2": 77, "P2-Br3": 78, "P2-0 Tango": 84, "P2-IM": 77},
                      {"w": 1652, "P2": 83, "P2-Br2": 85, "P2-Br3": 85, "P2-0 Tango": 89, "P2-IM": 85},
                      {"w": 1648, "P2": 92, "P2-Br2": 93, "P2-Br3": 93, "P2-0 Tango": 94, "P2-IM": 93},
                      {"w": 1644, "P2": 98, "P2-Br2": 98, "P2-Br3": 98, "P2-0 Tango": 98, "P2-IM": 98},
                      {"w": 1640, "P2": 100, "P2-Br2": 100, "P2-Br3": 100, "P2-0 Tango": 100, "P2-IM": 100},
                      {"w": 1636, "P2": 97, "P2-Br2": 99, "P2-Br3": 99, "P2-0 Tango": 100, "P2-IM": 98},
                      {"w": 1632, "P2": 90, "P2-Br2": 94, "P2-Br3": 94, "P2-0 Tango": 96, "P2-IM": 92},
                      {"w": 1628, "P2": 80, "P2-Br2": 85, "P2-Br3": 86, "P2-0 Tango": 89, "P2-IM": 83},
                      {"w": 1624, "P2": 68, "P2-Br2": 74, "P2-Br3": 76, "P2-0 Tango": 79, "P2-IM": 72},
                      {"w": 1620, "P2": 56, "P2-Br2": 63, "P2-Br3": 66, "P2-0 Tango": 68, "P2-IM": 62},
                      {"w": 1616, "P2": 45, "P2-Br2": 52, "P2-Br3": 55, "P2-0 Tango": 56, "P2-IM": 51},
                      {"w": 1612, "P2": 35, "P2-Br2": 42, "P2-Br3": 45, "P2-0 Tango": 44, "P2-IM": 41},
                      {"w": 1608, "P2": 27, "P2-Br2": 33, "P2-Br3": 37, "P2-0 Tango": 33, "P2-IM": 33},
                      {"w": 1604, "P2": 20, "P2-Br2": 25, "P2-Br3": 29, "P2-0 Tango": 22, "P2-IM": 26},
                      {"w": 1600, "P2": 13, "P2-Br2": 18, "P2-Br3": 23, "P2-0 Tango": 14, "P2-IM": 20}
                     ]},
                     "transform": [{"fold": ["P2-IM", "P2-Br3", "P2-0 Tango", "P2-Br2", "P2"], "as": ["s", "y"]}],
                     "mark": {"type": "line", "interpolate": "monotone", "strokeWidth": 1.3},
                     "encoding": {
                       "x": {"field": "w", "type": "quantitative", "axis": {"title": "Wavenumber (cm⁻¹)", "values": [1700, 1680, 1660, 1640, 1620, 1600], "format": "d", "labelAngle": -45, "labelFontSize": 9, "labelOverlap": false, "labelSeparation": -20, "domain": false, "tickWidth": 1, "tickSize": 4, "titleFontSize": 12}},
                       "y": {"field": "y", "type": "quantitative", "scale": {"domain": [0, 120], "nice": false}, "axis": {"title": "Normalised absorbance", "values": [0, 50, 100], "domain": false, "tickWidth": 1, "tickSize": 5, "labelPadding": 5, "titlePadding": 5, "titleFontSize": 11.5}},
                       "color": {"field": "s", "type": "nominal", "scale": {"domain": ["P2", "P2-Br2", "P2-Br3", "P2-0 Tango", "P2-IM"], "range": ["#000000", "#33F0F0", "#8C8C00", "#1B8A99", "#FFD27F"]},
                                 "legend": {"title": null, "orient": "right", "symbolType": "stroke", "symbolSize": 100, "symbolStrokeWidth": 1.5, "labelFontSize": 11, "rowPadding": 10, "offset": 10, "labelOffset": 8}}}},
                    {"data": {"values": [{"letter": "I"}]}, "mark": {"type": "text", "fontWeight": "bold", "fontSize": 11, "align": "left", "baseline": "middle", "dx": -41, "dy": -10},
                     "encoding": {"x": {"datum": 1700}, "y": {"datum": 120}, "text": {"field": "letter"}}}
                  ]
                }
              ]
            }
          ]
        }
      ]
    }
  ]
}
